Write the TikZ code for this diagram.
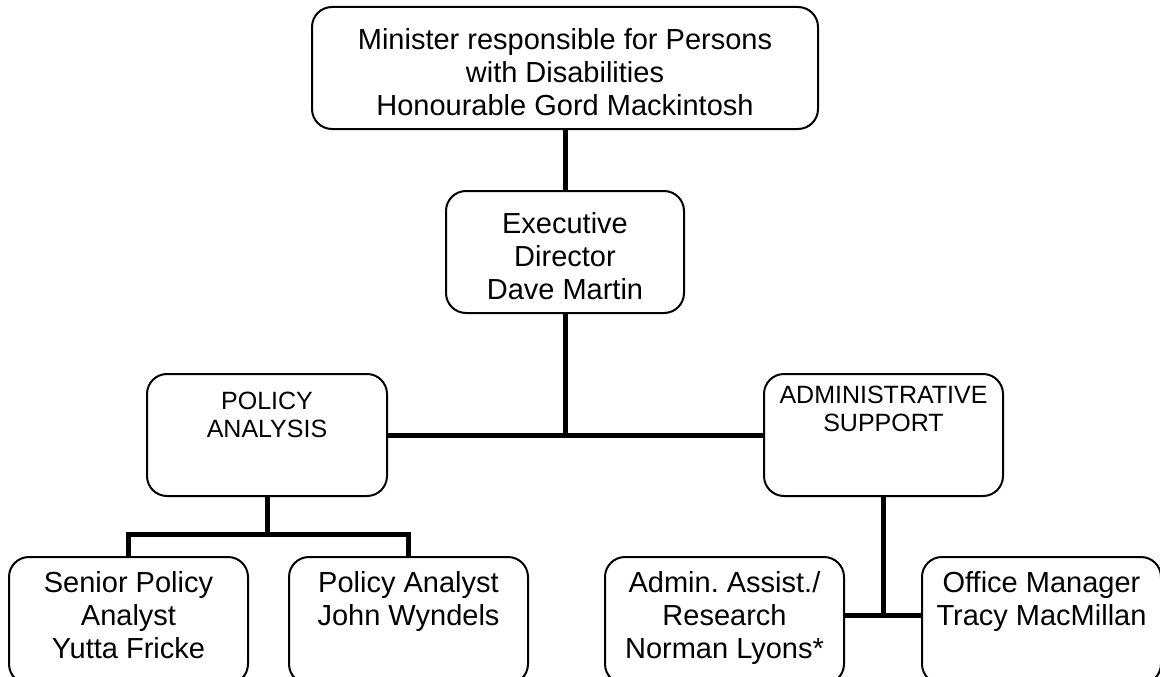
\documentclass[tikz,border=0pt]{standalone}
\usepackage{fontspec}
\setmainfont{Liberation Sans}
\frenchspacing
\usetikzlibrary{positioning}

\tikzset{
  unit/.style={draw, line width=2pt, rounded corners=20pt, inner sep=0pt, minimum height=122pt},
  bigtxt/.style={inner sep=0pt, align=center, font=\fontsize{29pt}{33.3pt}\selectfont},
  smalltxt/.style={inner sep=0pt, align=center, font=\fontsize{25pt}{28.3pt}\selectfont},
  link/.style={line width=5pt}
}

\begin{document}
\begin{tikzpicture}[x=1pt, y=-1pt]
\useasboundingbox (0,0) rectangle (1160,677);

% boxes
\node[unit, minimum width=506pt] (minister) at (565,68) {};
\node[unit, minimum width=238pt] (exec) at (565,252) {};
\node[unit, minimum width=240pt] (policy) at (267,435) {};
\node[unit, minimum width=239pt] (admin) at (883.5,435) {};
\foreach \name/\x in {senior/128.5, analyst/408.5, assist/724.5, office/1041.5}
  \node[unit, minimum width=239pt, minimum height=127pt] (\name) at (\x,620.5) {};

% texts
\node[bigtxt, below=22pt of minister.north] (ministertxt) {Minister responsible for Persons\\with Disabilities\\Honourable Gord Mackintosh};
\node[bigtxt, below=22pt of exec.north] (exectxt) {Executive\\Director\\Dave Martin};
\node[smalltxt, below=19pt of policy.north] (policytxt) {POLICY\\ANALYSIS};
\node[smalltxt, below=13pt of admin.north] (admintxt) {ADMINISTRATIVE\\SUPPORT};
\node[bigtxt, below=15pt of senior.north] (seniortxt) {Senior Policy\\Analyst\\Yutta Fricke};
\node[bigtxt, below=15pt of analyst.north] (analysttxt) {Policy Analyst\\John Wyndels};
\node[bigtxt, below=15pt of assist.north] (assisttxt) {Admin. Assist./\\Research\\Norman Lyons*};
\node[bigtxt, below=15pt of office.north] (officetxt) {Office Manager\\Tracy MacMillan};

% connectors
\coordinate (ejoin) at (exec.south |- policy.east);
\coordinate (pjoin) at (267,534);
\coordinate (ajoin) at (883.5,615);
\draw[link] (minister.south) -- (exec.north);
\draw[link] (exec.south) -- (ejoin);
\draw[link] (policy.east) -- (admin.west);
\draw[link] (policy.south) -- (pjoin);
\draw[link] (senior.north) |- (pjoin) -| (analyst.north);
\draw[link] (admin.south) -- (ajoin);
\draw[link] (assist.east |- ajoin) -- (office.west |- ajoin);
\end{tikzpicture}
\end{document}
